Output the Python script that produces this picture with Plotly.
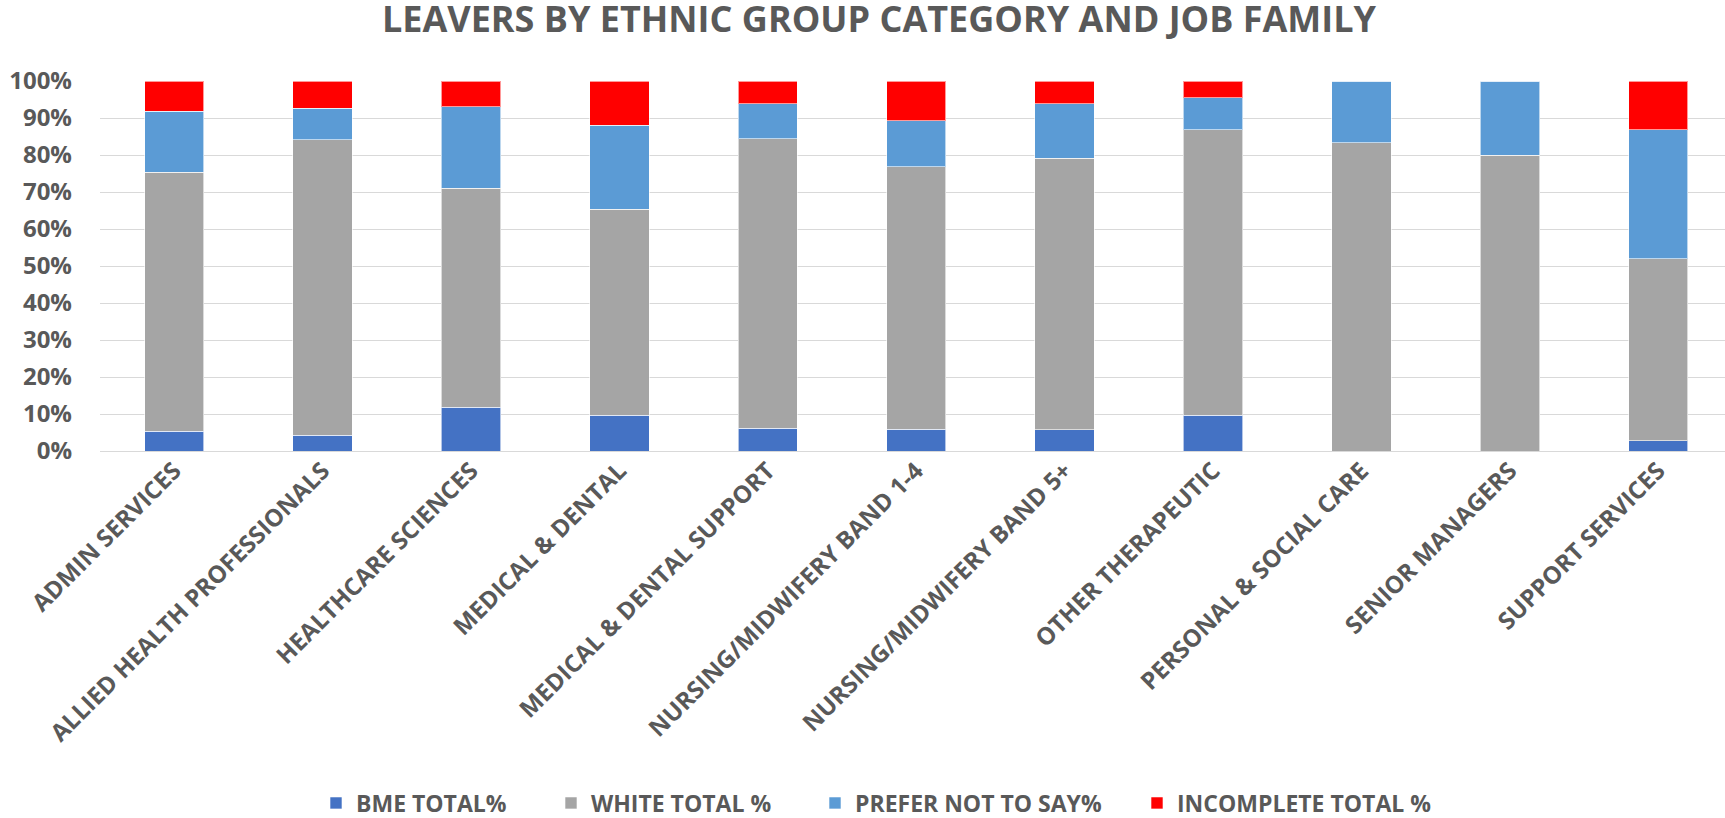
import plotly.graph_objects as go

# Job families on the category axis
job_families = [
    "ADMIN SERVICES",
    "ALLIED HEALTH PROFESSIONALS",
    "HEALTHCARE SCIENCES",
    "MEDICAL & DENTAL",
    "MEDICAL & DENTAL SUPPORT",
    "NURSING/MIDWIFERY BAND 1-4",
    "NURSING/MIDWIFERY BAND 5+",
    "OTHER THERAPEUTIC",
    "PERSONAL & SOCIAL CARE",
    "SENIOR MANAGERS",
    "SUPPORT SERVICES",
]

# Share of leavers in each ethnic group category (percent)
bme_total = [5.4, 4.3, 11.8, 9.6, 6.1, 5.9, 5.7, 9.6, 0.0, 0.0, 2.8]
white_total = [69.9, 79.8, 59.2, 55.7, 78.3, 70.9, 73.4, 77.2, 83.3, 80.0, 49.2]
prefer_not_to_say = [16.5, 8.6, 22.1, 22.8, 9.5, 12.5, 14.8, 8.7, 16.7, 20.0, 34.8]
incomplete_total = [8.2, 7.3, 6.9, 11.9, 6.1, 10.7, 6.1, 4.5, 0.0, 0.0, 13.2]

y_ticks = [0, 10, 20, 30, 40, 50, 60, 70, 80, 90, 100]
y_tick_labels = ["0%", "10%", "20%", "30%", "40%", "50%", "60%", "70%", "80%", "90%", "100%"]

series = [
    ("BME TOTAL%", bme_total, "#4472C4"),
    ("WHITE TOTAL %", white_total, "#A5A5A5"),
    ("PREFER NOT TO SAY%", prefer_not_to_say, "#5B9BD5"),
    ("INCOMPLETE TOTAL %", incomplete_total, "#FF0000"),
]

TEXT = "#595959"
FONT = "Open Sans"

W, H = 1725, 818
LEFT, TOP, BOTTOM_Y = 100, 81, 451
plot_w = W - LEFT
plot_h = BOTTOM_Y - TOP

# Each legend entry gets its own legend box so the entries can be spaced out
legend_marker_px = [336, 571, 835, 1157]
legend_y_px = 803

fig = go.Figure()
legend_layout = {}
for i, ((name, values, color), mx) in enumerate(zip(series, legend_marker_px)):
    legend_id = "legend" if i == 0 else f"legend{i + 1}"
    fig.add_trace(go.Bar(
        x=job_families,
        y=values,
        name=name,
        width=0.4,
        legend=legend_id,
        marker=dict(color=color, line=dict(color="rgba(255,255,255,0.6)", width=1)),
    ))
    legend_layout[legend_id] = dict(
        orientation="h",
        x=(mx - 20 - LEFT) / plot_w, xanchor="left",
        y=-(legend_y_px - BOTTOM_Y) / plot_h, yanchor="middle",
        font=dict(family=FONT, size=23, color=TEXT, weight="bold"),
        bgcolor="rgba(0,0,0,0)",
        itemclick=False,
        itemdoubleclick=False,
    )

fig.update_layout(
    barmode="stack",
    width=W,
    height=H,
    autosize=False,
    paper_bgcolor="white",
    plot_bgcolor="white",
    margin=dict(l=LEFT, r=0, t=TOP, b=H - BOTTOM_Y, autoexpand=False),
    title=dict(
        text="<b>LEAVERS BY ETHNIC GROUP CATEGORY AND JOB FAMILY</b>",
        font=dict(family=FONT, size=36, color=TEXT),
        x=879 / W, xref="container", xanchor="center",
        y=1 - 6.5 / H, yref="container", yanchor="top",
    ),
    font=dict(family=FONT, color=TEXT),
    showlegend=True,
    **legend_layout,
)

fig.update_xaxes(
    range=[-0.5, 10.45],
    tickangle=-45,
    tickfont=dict(family=FONT, size=24, color=TEXT, weight="bold"),
    showgrid=False,
    showline=False,
    ticks="",
    automargin=False,
)

fig.update_yaxes(
    range=[0, 100],
    tickvals=y_ticks,
    ticktext=y_tick_labels,
    tickfont=dict(family=FONT, size=24, color=TEXT, weight="bold"),
    showgrid=True,
    gridcolor="#D9D9D9",
    gridwidth=1.3,
    zeroline=True,
    zerolinecolor="#D9D9D9",
    zerolinewidth=1.3,
    ticks="",
    ticklabelstandoff=27,
    automargin=False,
)

fig.write_html("out.html")
